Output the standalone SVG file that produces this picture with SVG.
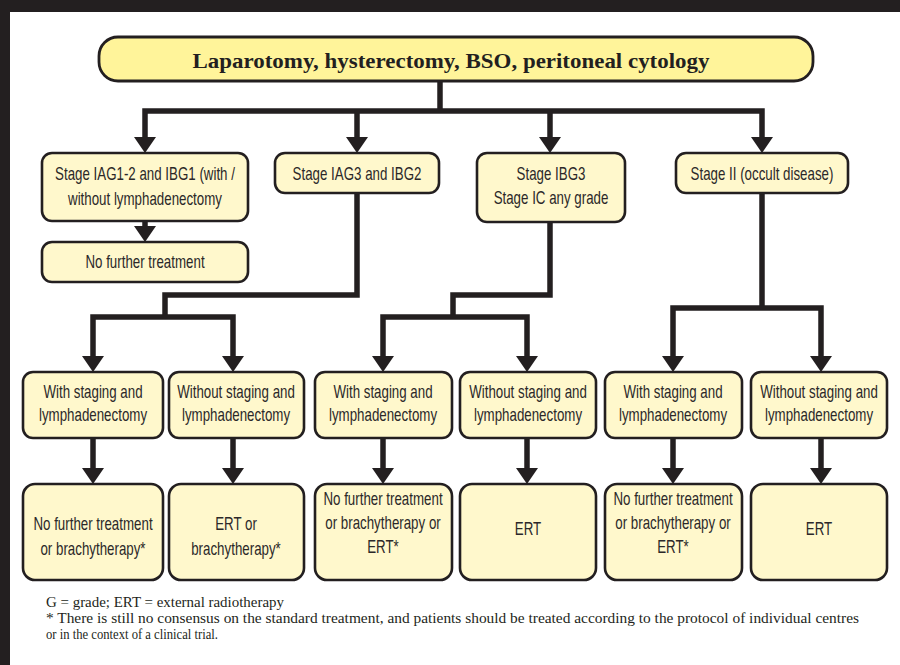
<svg xmlns="http://www.w3.org/2000/svg" width="900" height="665" viewBox="0 0 900 665">
<style>
.bg{fill:#ffffff}
.frame{fill:#231f20}
.box{fill:#fff8cc;stroke:#231f20;stroke-width:2.6}
.top{fill:#fff49a;stroke:#231f20;stroke-width:2.8}
.t{font-family:"Liberation Sans",Arial,sans-serif;font-size:18px;fill:#2b2829;text-anchor:middle}
.title{font-family:"Liberation Serif","Times New Roman",serif;font-size:22px;font-weight:bold;fill:#231f20;text-anchor:middle}
.fn{font-family:"Liberation Serif","Times New Roman",serif;font-size:14px;fill:#231f20}
.c{fill:none;stroke:#231f20;stroke-width:5.5;stroke-linejoin:miter}
</style>
<defs>
<marker id="ah" markerUnits="userSpaceOnUse" markerWidth="16" markerHeight="22" viewBox="0 0 16 22" refX="2" refY="11" orient="auto">
<path d="M0,0 L16,11 L0,22 Z" fill="#231f20"/>
</marker>
</defs>
<rect class="bg" x="0" y="0" width="900" height="665"/>
<rect class="frame" x="0" y="0" width="900" height="12"/>
<rect class="frame" x="0" y="0" width="10" height="665"/>

<g id="connectors">
<path class="c" d="M440,81 V111"/>
<path class="c" d="M440,111 H145 V139" marker-end="url(#ah)"/>
<path class="c" d="M440,111 H762 V139" marker-end="url(#ah)"/>
<path class="c" d="M357,111 V139" marker-end="url(#ah)"/>
<path class="c" d="M550,111 V139" marker-end="url(#ah)"/>
<path class="c" d="M145,221 V228" marker-end="url(#ah)"/>
<path class="c" d="M357,193 V295 H165 V317"/>
<path class="c" d="M165,317 H93 V358" marker-end="url(#ah)"/>
<path class="c" d="M165,317 H233 V358" marker-end="url(#ah)"/>
<path class="c" d="M550,222 V295 H453 V317"/>
<path class="c" d="M453,317 H383 V358" marker-end="url(#ah)"/>
<path class="c" d="M453,317 H527 V358" marker-end="url(#ah)"/>
<path class="c" d="M762,193 V308"/>
<path class="c" d="M762,308 H673 V358" marker-end="url(#ah)"/>
<path class="c" d="M762,308 H821 V358" marker-end="url(#ah)"/>
<path class="c" d="M93,438 V470" marker-end="url(#ah)"/>
<path class="c" d="M233,438 V470" marker-end="url(#ah)"/>
<path class="c" d="M383,438 V470" marker-end="url(#ah)"/>
<path class="c" d="M527,438 V470" marker-end="url(#ah)"/>
<path class="c" d="M673,438 V470" marker-end="url(#ah)"/>
<path class="c" d="M821,438 V470" marker-end="url(#ah)"/>
</g>

<g id="n-top">
<rect class="top" x="99" y="37" width="714" height="44" rx="19"/>
<text class="title" x="451" y="68" textLength="517" lengthAdjust="spacingAndGlyphs">Laparotomy, hysterectomy, BSO, peritoneal cytology</text>
</g>

<g id="n-s1">
<rect class="box" x="42" y="153" width="206" height="68" rx="10"/>
<text class="t" transform="translate(145 0) scale(0.74 1)"><tspan x="0" y="180">Stage IAG1-2 and IBG1 (with /</tspan><tspan x="0" y="205">without lymphadenectomy</tspan></text>
</g>
<g id="n-s1-nft">
<rect class="box" x="42" y="242" width="206" height="40" rx="10"/>
<text class="t" transform="translate(145 0) scale(0.74 1)"><tspan x="0" y="268">No further treatment</tspan></text>
</g>
<g id="n-s2">
<rect class="box" x="275" y="153" width="164" height="40" rx="10"/>
<text class="t" transform="translate(357 0) scale(0.74 1)"><tspan x="0" y="180">Stage IAG3 and IBG2</tspan></text>
</g>
<g id="n-s3">
<rect class="box" x="477" y="153" width="148" height="69" rx="10"/>
<text class="t" transform="translate(551 0) scale(0.74 1)"><tspan x="0" y="180">Stage IBG3</tspan><tspan x="0" y="204">Stage IC any grade</tspan></text>
</g>
<g id="n-s4">
<rect class="box" x="676" y="153" width="172" height="40" rx="10"/>
<text class="t" transform="translate(762 0) scale(0.74 1)"><tspan x="0" y="180">Stage II (occult disease)</tspan></text>
</g>

<g id="n-m1">
<rect class="box" x="23" y="372" width="140" height="66" rx="10"/>
<text class="t" transform="translate(93 0) scale(0.74 1)"><tspan x="0" y="398">With staging and</tspan><tspan x="0" y="421">lymphadenectomy</tspan></text>
</g>
<g id="n-m2">
<rect class="box" x="169" y="372" width="135" height="66" rx="10"/>
<text class="t" transform="translate(236 0) scale(0.74 1)"><tspan x="0" y="398">Without staging and</tspan><tspan x="0" y="421">lymphadenectomy</tspan></text>
</g>
<g id="n-m3">
<rect class="box" x="315" y="372" width="137" height="66" rx="10"/>
<text class="t" transform="translate(383 0) scale(0.74 1)"><tspan x="0" y="398">With staging and</tspan><tspan x="0" y="421">lymphadenectomy</tspan></text>
</g>
<g id="n-m4">
<rect class="box" x="460" y="372" width="136" height="66" rx="10"/>
<text class="t" transform="translate(528 0) scale(0.74 1)"><tspan x="0" y="398">Without staging and</tspan><tspan x="0" y="421">lymphadenectomy</tspan></text>
</g>
<g id="n-m5">
<rect class="box" x="605" y="372" width="137" height="66" rx="10"/>
<text class="t" transform="translate(673 0) scale(0.74 1)"><tspan x="0" y="398">With staging and</tspan><tspan x="0" y="421">lymphadenectomy</tspan></text>
</g>
<g id="n-m6">
<rect class="box" x="751" y="372" width="136" height="66" rx="10"/>
<text class="t" transform="translate(819 0) scale(0.74 1)"><tspan x="0" y="398">Without staging and</tspan><tspan x="0" y="421">lymphadenectomy</tspan></text>
</g>

<g id="n-b1">
<rect class="box" x="23" y="484" width="140" height="96" rx="12"/>
<text class="t" transform="translate(93 0) scale(0.74 1)"><tspan x="0" y="530">No further treatment</tspan><tspan x="0" y="555">or brachytherapy*</tspan></text>
</g>
<g id="n-b2">
<rect class="box" x="169" y="484" width="135" height="96" rx="12"/>
<text class="t" transform="translate(236 0) scale(0.74 1)"><tspan x="0" y="530">ERT or</tspan><tspan x="0" y="555">brachytherapy*</tspan></text>
</g>
<g id="n-b3">
<rect class="box" x="315" y="484" width="137" height="96" rx="12"/>
<text class="t" transform="translate(383 0) scale(0.74 1)"><tspan x="0" y="505">No further treatment</tspan><tspan x="0" y="529">or brachytherapy or</tspan><tspan x="0" y="553">ERT*</tspan></text>
</g>
<g id="n-b4">
<rect class="box" x="460" y="484" width="136" height="96" rx="12"/>
<text class="t" transform="translate(528 0) scale(0.74 1)"><tspan x="0" y="535">ERT</tspan></text>
</g>
<g id="n-b5">
<rect class="box" x="605" y="484" width="137" height="96" rx="12"/>
<text class="t" transform="translate(673 0) scale(0.74 1)"><tspan x="0" y="505">No further treatment</tspan><tspan x="0" y="529">or brachytherapy or</tspan><tspan x="0" y="553">ERT*</tspan></text>
</g>
<g id="n-b6">
<rect class="box" x="751" y="484" width="136" height="96" rx="12"/>
<text class="t" transform="translate(819 0) scale(0.74 1)"><tspan x="0" y="535">ERT</tspan></text>
</g>

<g id="footnote">
<text class="fn" x="46" y="607" textLength="238" lengthAdjust="spacingAndGlyphs">G = grade; ERT = external radiotherapy</text>
<text class="fn" x="46" y="623" textLength="813" lengthAdjust="spacingAndGlyphs">* There is still no consensus on the standard treatment, and patients should be treated according to the protocol of individual centres</text>
<text class="fn" x="46" y="639" textLength="172" lengthAdjust="spacingAndGlyphs">or in the context of a clinical trial.</text>
</g>
</svg>
